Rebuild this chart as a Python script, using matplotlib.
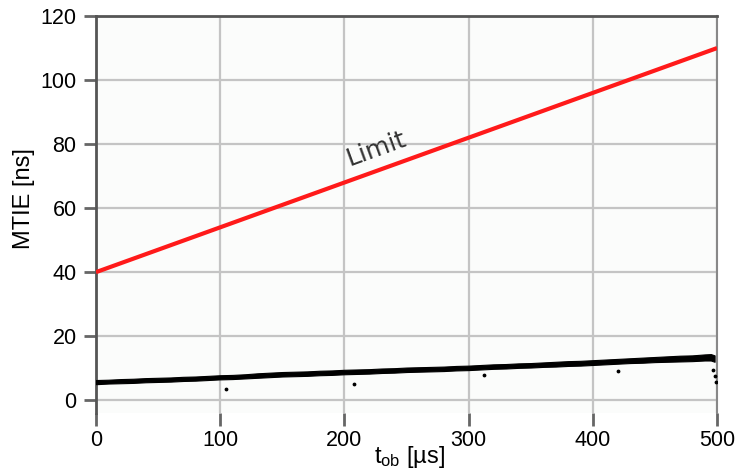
import matplotlib
matplotlib.use("Agg")
import matplotlib.pyplot as plt

plt.rcParams['font.family'] = ['Liberation Sans', 'DejaVu Sans']

# Limit line
limit_x = [0, 500]
limit_y = [40, 110]

meas_x = [0, 10, 20, 30, 40, 50, 60, 70, 80, 90, 100, 110, 120, 130, 140, 150,
          160, 170, 180, 190, 200, 210, 220, 230, 240, 250, 260, 270, 280, 290,
          300, 310, 320, 330, 340, 350, 360, 370, 380, 390, 400, 410, 420, 430,
          440, 450, 460, 470, 480, 490, 495, 498]
meas_y = [5.0, 5.2, 5.3, 5.4, 5.6, 5.7, 5.8, 6.0, 6.1, 6.3, 6.5, 6.6, 6.8, 7.0, 7.2, 7.4,
          7.5, 7.6, 7.8, 7.9, 8.1, 8.2, 8.3, 8.5, 8.6, 8.8, 8.9, 9.0, 9.1, 9.3,
          9.4, 9.6, 9.8, 9.9, 10.1, 10.2, 10.4, 10.5, 10.7, 10.8, 11.0, 11.2, 11.4, 11.6,
          11.7, 11.9, 12.0, 12.1, 12.2, 12.4, 12.4, 12.0]
# Upper envelope of the noisy band
meas_hi = [6.3, 6.4, 6.6, 6.7, 6.9, 7.0, 7.1, 7.3, 7.4, 7.6, 7.8, 7.9, 8.1, 8.4, 8.6, 8.8,
           8.9, 9.0, 9.2, 9.3, 9.5, 9.6, 9.7, 9.9, 10.0, 10.2, 10.3, 10.4, 10.5, 10.7,
           10.8, 11.0, 11.2, 11.3, 11.5, 11.6, 11.8, 12.0, 12.2, 12.3, 12.5, 12.7, 12.9, 13.1,
           13.3, 13.5, 13.7, 13.9, 14.0, 14.3, 14.4, 14.0]

# Isolated outlier points
out_x = [105, 208, 312, 420, 497, 498, 499]
out_y = [3.4, 5.0, 7.8, 9.0, 9.5, 7.5, 5.8]

xticks = [0, 100, 200, 300, 400, 500]
yticks = [0, 20, 40, 60, 80, 100, 120]

W, H = 735, 472
fig = plt.figure(figsize=(W / 100, H / 100), dpi=100)
ax = fig.add_axes([0.1306, 0.125, 0.8450, 0.841])
ax.set_facecolor('#fbfcfb')

ax.set_xlim(0, 500)
ax.set_ylim(-4, 120)
ax.set_xticks(xticks)
ax.set_yticks(yticks)
ax.grid(True, color='#c4c4c4', linewidth=1.6)
ax.set_axisbelow(True)

ax.fill_between(meas_x, meas_y, meas_hi, color='black', linewidth=0.8, zorder=3)
ax.scatter(out_x, out_y, s=3, color='black', zorder=3)

ax.plot(limit_x, limit_y, color='#ff1a1a', linewidth=3.0, zorder=4, solid_capstyle='butt')

ax.text(226, 78.5, 'Limit', rotation=20, fontsize=18, color='#333333',
        family='DejaVu Sans', ha='center', va='center')

for s in ['left', 'top']:
    ax.spines[s].set_color('#555555')
    ax.spines[s].set_linewidth(2.0)
ax.spines['right'].set_color('#888888')
ax.spines['right'].set_linewidth(1.5)
ax.spines['bottom'].set_visible(False)

ax.tick_params(axis='y', direction='out', length=9, width=2, color='#666666',
               labelsize=15.5, pad=5)
ax.tick_params(axis='x', direction='out', length=9, width=2, color='#666666',
               labelsize=15.5, pad=3)

fig.text(24 / W, 1 - 199 / H, 'MTIE [ns]', rotation=90, fontsize=17,
         ha='center', va='center')
fig.text(410 / W, 1 - 463 / H, r'$\mathregular{t_{ob}}$ [µs]', fontsize=17,
         ha='center', va='baseline')

fig.savefig('out.png', dpi=100)
